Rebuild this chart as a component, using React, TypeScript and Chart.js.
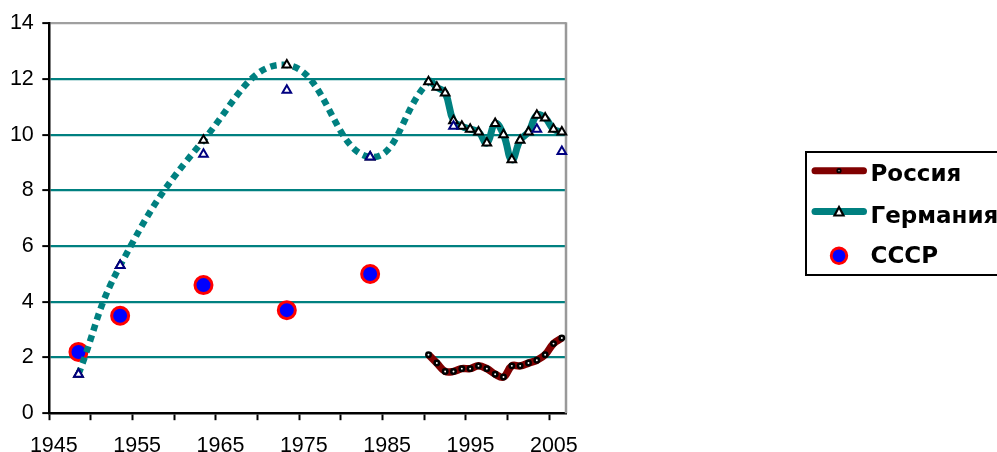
import React, { useEffect, useRef } from 'react';
import { Chart, registerables } from 'chart.js';

Chart.register(...registerables);

// ---- data ----
const russiaYears = [1990, 1991, 1992, 1993, 1994, 1995, 1996, 1997, 1998, 1999, 2000, 2001, 2002, 2003, 2004, 2005, 2006];
const russiaValues = [2.1, 1.8, 1.5, 1.5, 1.6, 1.6, 1.7, 1.6, 1.4, 1.3, 1.7, 1.7, 1.8, 1.9, 2.1, 2.5, 2.7];

const germanyYears = [1948, 1953, 1963, 1973, 1983, 1990, 1991, 1992, 1993, 1994, 1995, 1996, 1997, 1998, 1999, 2000, 2001, 2002, 2003, 2004, 2005, 2006];
const germanyValues = [1.4, 5.3, 9.8, 12.5, 9.2, 11.9, 11.7, 11.5, 10.5, 10.3, 10.2, 10.1, 9.7, 10.4, 10.0, 9.1, 9.8, 10.1, 10.7, 10.6, 10.2, 10.1];

const frgYears = [1948, 1953, 1963, 1973, 1983, 1993, 2003, 2006];
const frgValues = [1.4, 5.3, 9.3, 11.6, 9.2, 10.3, 10.2, 9.4];

const ussrYears = [1948, 1953, 1963, 1973, 1983];
const ussrValues = [2.2, 3.5, 4.6, 3.7, 5.0];

const xTickYears = [1945, 1950, 1955, 1960, 1965, 1970, 1975, 1980, 1985, 1990, 1995, 2000, 2005];
const xLabelYears = [1945, 1955, 1965, 1975, 1985, 1995, 2005];
const yTickValues = [0, 2, 4, 6, 8, 10, 12, 14];
const legendLabels = ['Россия', 'Германия', 'СССР'];
const dottedBefore = 1990;

const FONT = '"Liberation Sans", Arial, sans-serif';
const LEGEND_FONT = '"DejaVu Sans", Verdana, sans-serif';

const toPoints = (xs: number[], ys: number[]) => xs.map((x, i) => ({ x, y: ys[i] }));

const framePlugin = {
  id: 'frameRight',
  beforeDatasetsDraw(chart: any) {
    const { ctx, chartArea } = chart;
    ctx.save();
    ctx.strokeStyle = '#999999';
    ctx.lineWidth = 2.5;
    ctx.beginPath();
    ctx.moveTo(chartArea.right, chartArea.top - 1);
    ctx.lineTo(chartArea.right, chartArea.bottom);
    ctx.stroke();
    ctx.restore();
  },
};

export default function App() {
  const ref = useRef<HTMLCanvasElement | null>(null);

  useEffect(() => {
    if (!ref.current) return;
    const chart = new Chart(ref.current, {
      type: 'line',
      data: {
        datasets: [
          {
            label: 'ФРГ',
            data: toPoints(frgYears, frgValues),
            showLine: false,
            pointStyle: 'triangle',
            pointRadius: 5,
            pointBorderWidth: 2,
            pointBorderColor: '#000080',
            pointBackgroundColor: '#ffffff',
            order: 0,
            clip: false,
          } as any,
          {
            label: legendLabels[1],
            data: toPoints(germanyYears, germanyValues),
            borderColor: '#008080',
            borderWidth: 7,
            tension: 0.45,
            borderCapStyle: 'butt',
            segment: {
              borderDash: (c: any) => (c.p0.parsed.x < dottedBefore ? [6.5, 5] : undefined),
              borderWidth: (c: any) => (c.p0.parsed.x < dottedBefore ? 6.5 : undefined),
            },
            pointStyle: 'triangle',
            pointRadius: 5,
            pointBorderWidth: 2,
            pointBorderColor: '#000000',
            pointBackgroundColor: '#ffffff',
            order: 1,
            clip: false,
          } as any,
          {
            label: legendLabels[0],
            data: toPoints(russiaYears, russiaValues),
            borderColor: '#800000',
            borderWidth: 7.5,
            tension: 0.4,
            pointStyle: 'circle',
            pointRadius: 2.2,
            pointBorderWidth: 2.5,
            pointBorderColor: '#000000',
            pointBackgroundColor: '#ffffff',
            order: 2,
            clip: false,
          } as any,
          {
            label: legendLabels[2],
            data: toPoints(ussrYears, ussrValues),
            showLine: false,
            pointStyle: 'circle',
            pointRadius: 8.5,
            pointBorderWidth: 3,
            pointBorderColor: '#ff0000',
            pointBackgroundColor: '#0000ff',
            order: 3,
            clip: false,
          } as any,
        ],
      },
      options: {
        responsive: false,
        animation: false,
        layout: { padding: { left: 0, top: 23.3, right: 431, bottom: 0 } },
        plugins: {
          legend: { display: false },
          tooltip: { enabled: false },
        },
        scales: {
          x: {
            type: 'linear',
            min: 1944.5,
            max: 2006.5,
            afterBuildTicks: (s: any) => {
              s.ticks = xTickYears.map((y) => ({ value: y - 0.5 }));
            },
            afterFit: (s: any) => {
              s.height = 452 - 413.2;
            },
            ticks: {
              autoSkip: false,
              maxRotation: 0,
              minRotation: 0,
              labelOffset: 4.5,
              padding: 12.5,
              color: '#000000',
              font: { family: FONT, size: 21.5 },
              callback: (v: any) => {
                const yr = Math.round(Number(v) + 0.5);
                return xLabelYears.includes(yr) ? String(yr) : '';
              },
            },
            grid: {
              drawOnChartArea: false,
              drawTicks: true,
              tickLength: 7,
              tickColor: '#000000',
              tickWidth: 2,
            },
            border: { color: '#000000', width: 2.5 },
          },
          y: {
            type: 'linear',
            min: 0,
            max: 14,
            afterBuildTicks: (s: any) => {
              s.ticks = yTickValues.map((v) => ({ value: v }));
            },
            afterFit: (s: any) => {
              s.width = 49.3;
            },
            ticks: {
              padding: 8.5,
              color: '#000000',
              font: { family: FONT, size: 21.5 },
            },
            grid: {
              color: (c: any) => {
                const v = c.tick ? c.tick.value : null;
                if (v === 14) return '#a0a0a0';
                if (v === 0) return 'rgba(0,0,0,0)';
                return '#008080';
              },
              lineWidth: 2.2,
              tickLength: 7,
              tickColor: '#000000',
              tickWidth: 2,
            },
            border: { color: '#000000', width: 2.5 },
          },
        },
      } as any,
      plugins: [framePlugin],
    });
    return () => chart.destroy();
  }, []);

  const textStyle = (top: number): React.CSSProperties => ({
    position: 'absolute',
    left: 870.5,
    top,
    fontFamily: LEGEND_FONT,
    fontWeight: 'bold',
    fontSize: 23,
    lineHeight: '23px',
    color: '#000000',
    whiteSpace: 'nowrap',
  });

  return (
    <div style={{ position: 'fixed', left: 0, top: 0, width: 997, height: 452, overflow: 'hidden', background: '#ffffff' }}>
      <canvas ref={ref} width={997} height={452} style={{ position: 'absolute', left: 0, top: 0, width: 997, height: 452 }} />
      <div
        style={{
          position: 'absolute',
          left: 804.5,
          top: 150.5,
          width: 230,
          height: 125,
          border: '2.5px solid #000000',
          boxSizing: 'border-box',
        }}
      />
      <svg width={997} height={452} style={{ position: 'absolute', left: 0, top: 0, pointerEvents: 'none' }}>
        <line x1={815} y1={170.7} x2={863.5} y2={170.7} stroke="#800000" strokeWidth={7} strokeLinecap="round" />
        <circle cx={839} cy={170.7} r={1.6} fill="#ffffff" stroke="#000000" strokeWidth={2} />
        <line x1={815} y1={211.5} x2={863.5} y2={211.5} stroke="#008080" strokeWidth={7} strokeLinecap="round" />
        <polygon points="839,207 843.5,215.5 834.5,215.5" fill="#ffffff" stroke="#000000" strokeWidth={2.2} />
        <circle cx={839} cy={255.8} r={7.8} fill="#0000ff" stroke="#ff0000" strokeWidth={2.8} />
      </svg>
      <div style={textStyle(162.1)}>{legendLabels[0]}</div>
      <div style={textStyle(203.8)}>{legendLabels[1]}</div>
      <div style={textStyle(243.8)}>{legendLabels[2]}</div>
    </div>
  );
}
